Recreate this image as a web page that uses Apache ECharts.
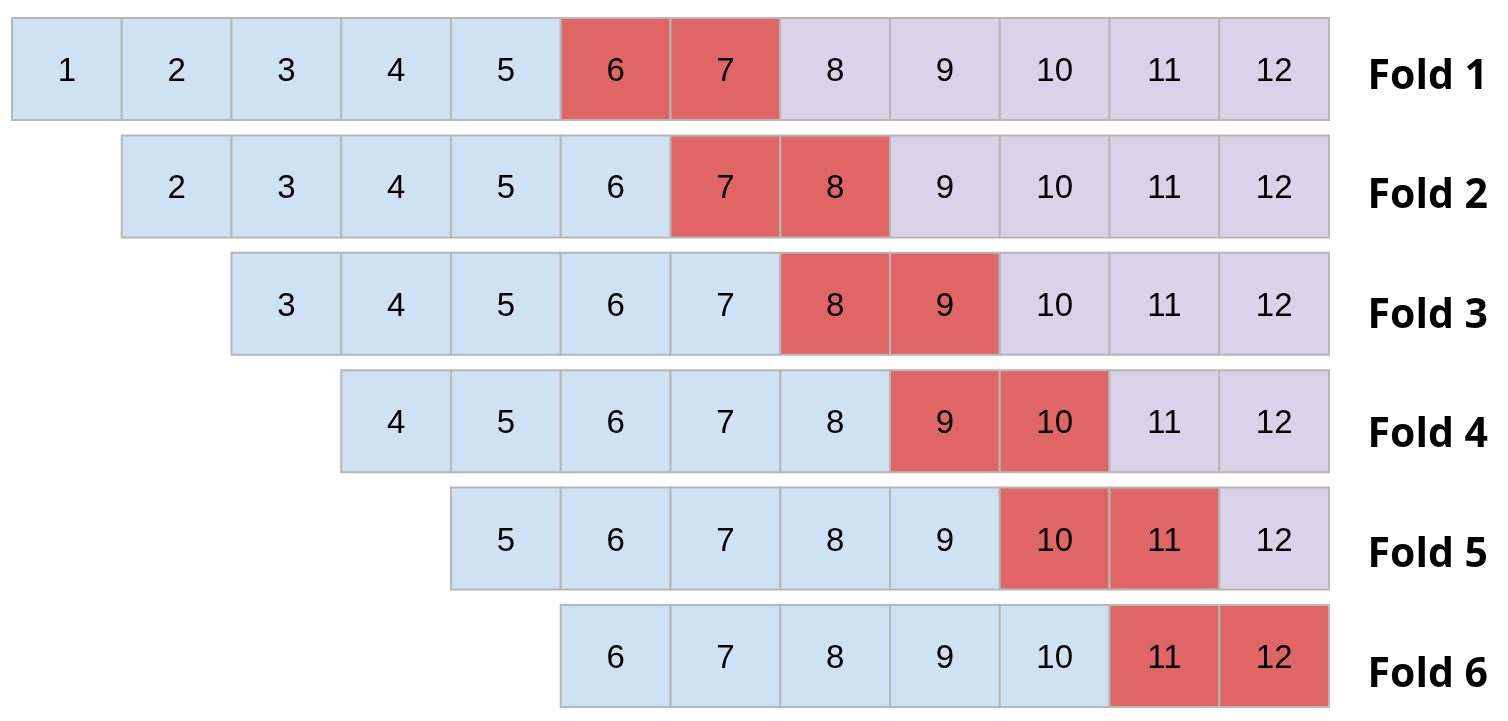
<!DOCTYPE html>
<html>
<head>
<meta charset="utf-8">
<script src="https://cdn.jsdelivr.net/npm/echarts@6/dist/echarts.min.js"></script>
<style>html,body{margin:0;padding:0;background:#fff;}#c{width:1508px;height:721px;}</style>
</head>
<body>
<div id="c"></div>
<script>
const periods = ['1','2','3','4','5','6','7','8','9','10','11','12'];
const folds = ['Fold 1','Fold 2','Fold 3','Fold 4','Fold 5','Fold 6'];
// T = train, V = validation/test, U = unused future; '' = no cell
const fold1 = ['T','T','T','T','T','V','V','U','U','U','U','U'];
const fold2 = ['', 'T','T','T','T','T','V','V','U','U','U','U'];
const fold3 = ['', '', 'T','T','T','T','T','V','V','U','U','U'];
const fold4 = ['', '', '', 'T','T','T','T','T','V','V','U','U'];
const fold5 = ['', '', '', '', 'T','T','T','T','T','V','V','U'];
const fold6 = ['', '', '', '', '', 'T','T','T','T','T','V','V'];
const foldRoles = [fold1, fold2, fold3, fold4, fold5, fold6];

const roleColor = { T: '#cfe2f3', V: '#e06666', U: '#d9d2e9' };

const cells = [];
foldRoles.forEach((row, r) => {
  row.forEach((role, c) => {
    if (role) cells.push([c, r, role]);
  });
});

const chart = echarts.init(document.getElementById('c'));
chart.setOption({
  animation: false,
  grid: [
    { left: 12, right: 179, top: 10.3, bottom: 6.3 },
    { left: 1490, width: 10, top: 77, bottom: 46 }
  ],
  xAxis: [
    { gridIndex: 0, type: 'category', data: periods, show: false },
    { gridIndex: 1, type: 'category', data: ['x'], show: false }
  ],
  yAxis: [
    { gridIndex: 0, type: 'category', data: folds, inverse: true, show: false },
    {
      gridIndex: 1, type: 'category', data: folds, inverse: true, boundaryGap: false,
      position: 'left',
      axisLine: { show: false }, axisTick: { show: false }, splitLine: { show: false },
      axisLabel: {
        margin: 2, color: '#000', fontFamily: 'Open Sans', fontWeight: 'bold', fontSize: 41,
        align: 'right', verticalAlign: 'middle'
      }
    }
  ],
  series: [
    {
      type: 'custom',
      xAxisIndex: 0, yAxisIndex: 0,
      data: cells,
      renderItem: function (params, api) {
        const c = api.value(0), r = api.value(1);
        const center = api.coord([c, r]);
        const w = api.size([1, 1]);
        const cw = w[0], ch = w[1] * 0.869;
        const role = cells[params.dataIndex][2];
        return {
          type: 'group',
          children: [
            {
              type: 'rect',
              shape: { x: center[0] - cw / 2, y: center[1] - ch / 2, width: cw, height: ch },
              style: { fill: roleColor[role], stroke: '#b7b7b7', lineWidth: 2 }
            },
            {
              type: 'text',
              style: {
                x: center[0], y: center[1] + 3,
                text: periods[c],
                fill: '#000', font: '33px "Liberation Sans", Arial, sans-serif',
                align: 'center', verticalAlign: 'middle'
              }
            }
          ]
        };
      }
    },
    { type: 'scatter', xAxisIndex: 1, yAxisIndex: 1, data: [], silent: true }
  ]
});
</script>
</body>
</html>
